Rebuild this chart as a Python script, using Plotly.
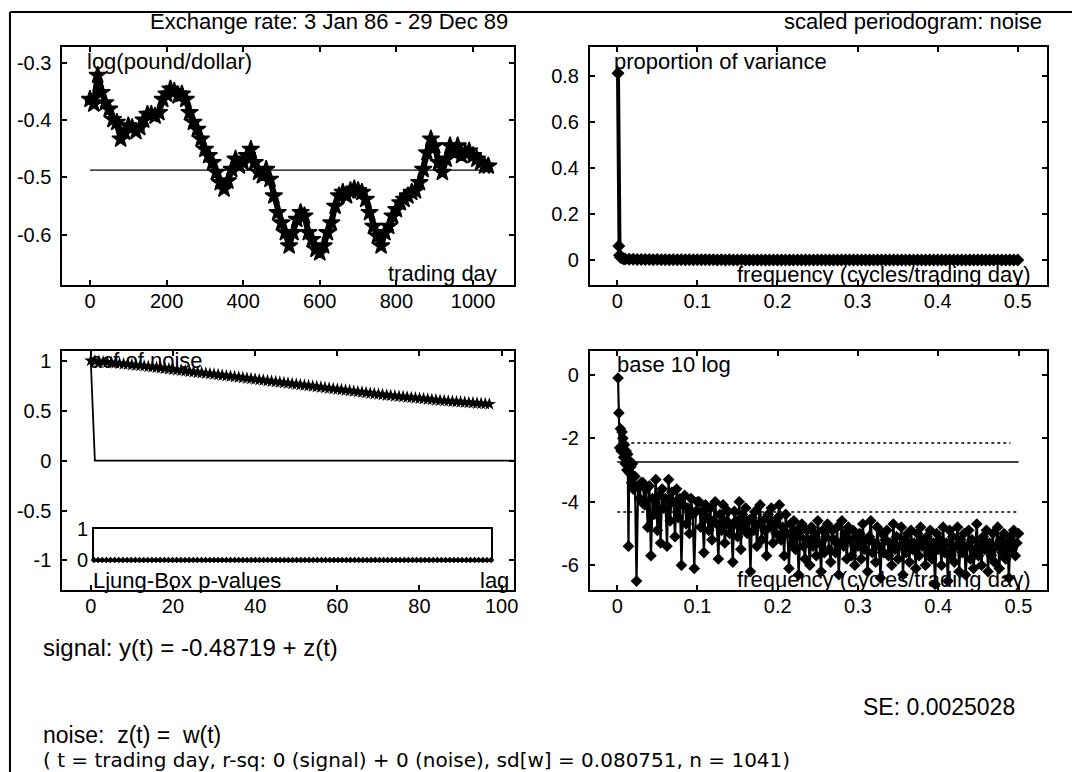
import plotly.graph_objects as go

W = 1077
H_FIG = 790
# measured mapping between page rows and picture rows: picture = 0.9705*page + 11
PIC_SCALE = 0.9705
PIC_OFF = 11.0
FONT = "Liberation Sans"

# ---------------- data ----------------
# top-left: log(pound/dollar), read every 10 trading days
trading_day = list(range(0, 1041, 10))
log_rate = [
    -0.364, -0.372, -0.322, -0.352, -0.370, -0.381, -0.399, -0.404, -0.433, -0.421,
    -0.410, -0.413, -0.420, -0.413, -0.400, -0.390, -0.390, -0.393, -0.387, -0.364,
    -0.355, -0.346, -0.350, -0.358, -0.355, -0.364, -0.387, -0.404, -0.416, -0.433,
    -0.451, -0.462, -0.474, -0.491, -0.509, -0.520, -0.506, -0.486, -0.468, -0.480,
    -0.474, -0.462, -0.451, -0.474, -0.491, -0.497, -0.486, -0.503, -0.532, -0.561,
    -0.579, -0.596, -0.619, -0.596, -0.573, -0.561, -0.567, -0.596, -0.608, -0.625,
    -0.631, -0.619, -0.596, -0.579, -0.550, -0.532, -0.526, -0.532, -0.523, -0.520,
    -0.523, -0.526, -0.538, -0.561, -0.585, -0.602, -0.619, -0.596, -0.585, -0.567,
    -0.556, -0.544, -0.538, -0.532, -0.526, -0.523, -0.509, -0.486, -0.457, -0.433,
    -0.445, -0.474, -0.491, -0.468, -0.445, -0.457, -0.445, -0.462, -0.457, -0.454,
    -0.462, -0.468, -0.474, -0.480, -0.480,
]
mean_days = [0, 1040]
mean_level = [-0.48719, -0.48719]

# top-right: scaled periodogram (proportion of variance)
prop_var_head = [0.81, 0.06, 0.02, 0.012, 0.008, 0.005, 0.004]
freq_tr_head = [0.001, 0.002, 0.003, 0.004, 0.006, 0.008, 0.010]
prop_var_tail = [
    0.003, 0.003, 0.002, 0.002, 0.002, 0.002, 0.001, 0.002, 0.001, 0.001,
    0.001, 0.001, 0.001, 0.001, 0.001, 0.001, 0.001, 0.001, 0.001, 0.001,
    0.001, 0.001, 0.000, 0.001, 0.000, 0.001, 0.000, 0.000, 0.001, 0.000,
    0.000, 0.000, 0.000, 0.000, 0.000, 0.000, 0.000, 0.000, 0.000, 0.000,
    0.000, 0.000, 0.000, 0.000, 0.000, 0.000, 0.000, 0.000, 0.000, 0.000,
    0.000, 0.000, 0.000, 0.000, 0.000, 0.000, 0.000, 0.000, 0.000, 0.000,
    0.000, 0.000, 0.000, 0.000, 0.000, 0.000, 0.000, 0.000, 0.000, 0.000,
    0.000, 0.000, 0.000, 0.000, 0.000, 0.000, 0.000, 0.000, 0.000, 0.000,
    0.000, 0.000, 0.000, 0.000, 0.000, 0.000, 0.000, 0.000, 0.000, 0.000,
    0.000, 0.000, 0.000, 0.000, 0.000, 0.000, 0.000, 0.000,
]
freq_tr = freq_tr_head + [round(0.015 + 0.005 * i, 3) for i in range(len(prop_var_tail))]
prop_var = prop_var_head + prop_var_tail

# bottom-left: acf of noise
acf_lag = list(range(0, 98))
acf_noise = [
    1.000, 0.996, 0.991, 0.987, 0.983, 0.979, 0.975, 0.970, 0.966, 0.962,
    0.957, 0.953, 0.949, 0.944, 0.940, 0.936, 0.931, 0.926, 0.921, 0.916,
    0.911, 0.906, 0.901, 0.896, 0.891, 0.886, 0.881, 0.877, 0.872, 0.867,
    0.862, 0.857, 0.852, 0.847, 0.842, 0.837, 0.832, 0.827, 0.822, 0.817,
    0.812, 0.807, 0.802, 0.797, 0.792, 0.787, 0.782, 0.777, 0.772, 0.767,
    0.762, 0.757, 0.752, 0.747, 0.742, 0.737, 0.732, 0.727, 0.722, 0.717,
    0.712, 0.707, 0.702, 0.697, 0.692, 0.687, 0.682, 0.677, 0.672, 0.667,
    0.662, 0.658, 0.653, 0.649, 0.645, 0.641, 0.637, 0.633, 0.629, 0.625,
    0.621, 0.617, 0.613, 0.609, 0.605, 0.601, 0.597, 0.594, 0.591, 0.588,
    0.585, 0.582, 0.579, 0.576, 0.573, 0.570, 0.567, 0.564,
]
wn_lag = [0, 1, 103]
wn_acf = [1.0, 0.0, 0.0]
lb_lag = list(range(1, 98))
lb_pvalue = [0.0] * 97  # every Ljung-Box p-value reads as 0

# bottom-right: base 10 log of periodogram
freq_br_head = [0.001, 0.002, 0.003, 0.004, 0.005, 0.006, 0.007, 0.008, 0.009, 0.010,
                0.011, 0.012, 0.013, 0.014, 0.015, 0.016, 0.017, 0.018, 0.019, 0.020,
                0.022, 0.024, 0.026, 0.028, 0.030]
log_pgram_head = [
    -0.1, -1.2, -2.3, -1.7, -2.4, -1.8, -2.0, -2.6, -2.2, -2.8,
    -2.4, -3.0, -2.5, -5.4, -2.7, -3.1, -2.9, -3.4, -2.8, -3.6,
    -3.2, -6.5, -3.5, -3.9, -3.4,
]
log_pgram_tail = [
    # 0.032 - 0.100
    -3.4, -4.1, -3.6, -4.8, -3.5, -5.7, -3.9, -4.4, -3.3, -4.9, -3.8, -5.3, -3.6, -4.2, -3.9,
    -5.4, -3.3, -4.6, -3.7, -4.0, -5.1, -3.6, -4.5, -3.9, -6.0, -4.1, -3.8, -4.7, -4.2, -5.0,
    -3.9, -4.4, -6.1, -4.3, -4.0,
    # 0.102 - 0.200
    -4.0, -4.8, -4.3, -5.6, -4.1, -4.5, -4.9, -4.2, -5.2, -4.6, -4.0, -4.7, -5.8, -4.4, -4.9,
    -4.1, -5.3, -4.6, -4.3, -5.0, -4.8, -5.9, -4.3, -4.6, -5.1, -4.0, -5.5, -4.4, -4.8, -4.2,
    -5.0, -4.6, -6.2, -4.5, -4.9, -4.3, -5.4, -4.7, -4.1, -5.2, -4.6, -4.9, -5.7, -4.4, -4.8,
    -4.2, -5.3, -4.7, -5.0, -4.5,
    # 0.202 - 0.300
    -4.1, -5.2, -4.8, -5.7, -4.4, -5.0, -6.1, -4.7, -5.3, -4.6, -5.5, -4.9, -6.3, -5.1, -4.7,
    -5.4, -5.8, -4.9, -5.2, -6.0, -4.8, -5.4, -5.0, -5.7, -4.6, -5.3, -6.2, -4.9, -5.6, -5.1,
    -4.7, -5.5, -5.9, -4.9, -5.2, -5.6, -4.8, -6.3, -5.3, -4.6, -5.4, -5.0, -5.8, -4.8, -5.2,
    -5.7, -4.9, -6.0, -5.1, -5.4,
    # 0.302 - 0.400
    -5.0, -5.8, -4.7, -5.5, -5.2, -6.2, -5.1, -4.6, -5.6, -5.3, -5.9, -4.8, -5.4, -6.4, -5.0,
    -5.6, -5.2, -4.9, -5.7, -5.3, -6.0, -4.7, -5.5, -5.1, -5.8, -5.4, -4.8, -6.3, -5.2, -5.6,
    -5.0, -5.9, -4.9, -5.5, -5.3, -6.1, -5.0, -5.7, -4.8, -5.4, -5.2, -6.0, -5.1, -5.6, -4.9,
    -5.8, -5.3, -6.6, -5.0, -5.5,
    # 0.402 - 0.500
    -5.2, -6.0, -4.8, -5.6, -5.3, -6.5, -4.9, -5.7, -5.1, -5.9, -5.4, -4.8, -6.2, -5.2, -5.6,
    -5.0, -6.3, -5.4, -4.9, -5.8, -5.2, -6.1, -5.5, -4.7, -5.7, -5.3, -6.0, -5.1, -5.5, -4.9,
    -6.2, -5.3, -5.7, -5.0, -5.9, -5.4, -4.8, -6.1, -5.2, -5.6, -5.0, -5.8, -5.3, -6.4, -5.1,
    -5.5, -4.9, -5.7, -5.3, -5.0,
]
freq_br = freq_br_head + [round(0.032 + 0.002 * i, 3) for i in range(len(log_pgram_tail))]
log_pgram = log_pgram_head + log_pgram_tail
ref_solid_x, ref_solid_y = [0.0, 0.5], [-2.75, -2.75]
ref_upper_x, ref_upper_y = [0.01, 0.49], [-2.15, -2.15]
ref_lower_x, ref_lower_y = [0.0, 0.5], [-4.32, -4.32]

# tick labels
tl_x_ticks = [0, 200, 400, 600, 800, 1000]
tl_y_ticks = [-0.3, -0.4, -0.5, -0.6]
tl_y_text = ["-0.3", "-0.4", "-0.5", "-0.6"]
tr_x_ticks = [0, 0.1, 0.2, 0.3, 0.4, 0.5]
tr_x_text = ["0", "0.1", "0.2", "0.3", "0.4", "0.5"]
tr_y_ticks = [0, 0.2, 0.4, 0.6, 0.8]
tr_y_text = ["0", "0.2", "0.4", "0.6", "0.8"]
bl_x_ticks = [0, 20, 40, 60, 80, 100]
bl_y_ticks = [1, 0.5, 0, -0.5, -1]
bl_y_text = ["1", "0.5", "0", "-0.5", "-1"]
br_y_ticks = [0, -2, -4, -6]
br_y_text = ["0", "-2", "-4", "-6"]


# ---------------- figure ----------------
def fx(p):
    return p / W


def fy(p):
    page = (p - PIC_OFF) / PIC_SCALE
    return min(1.0, max(0.0, 1 - page / H_FIG))


K = "black"
fig = go.Figure()

fig.add_trace(go.Scatter(x=trading_day, y=log_rate, mode="lines+markers",
                         line=dict(color=K, width=6),
                         marker=dict(symbol="star", size=13, color=K,
                                     line=dict(color=K, width=1.5)),
                         xaxis="x", yaxis="y"))
fig.add_trace(go.Scatter(x=mean_days, y=mean_level, mode="lines",
                         line=dict(color=K, width=1.2), xaxis="x", yaxis="y"))

fig.add_trace(go.Scatter(x=freq_tr, y=prop_var, mode="lines+markers",
                         line=dict(color=K, width=4),
                         marker=dict(symbol="diamond", size=10, color=K),
                         xaxis="x2", yaxis="y2"))

fig.add_trace(go.Scatter(x=acf_lag, y=acf_noise, mode="lines+markers",
                         line=dict(color=K, width=3),
                         marker=dict(symbol="star", size=10, color=K),
                         xaxis="x3", yaxis="y3"))
fig.add_trace(go.Scatter(x=wn_lag, y=wn_acf, mode="lines",
                         line=dict(color=K, width=1.8), xaxis="x3", yaxis="y3"))
fig.add_trace(go.Scatter(x=lb_lag, y=lb_pvalue, mode="lines+markers",
                         line=dict(color=K, width=2),
                         marker=dict(symbol="diamond", size=5, color=K),
                         xaxis="x5", yaxis="y5", cliponaxis=False))

fig.add_trace(go.Scatter(x=freq_br, y=log_pgram, mode="lines+markers",
                         line=dict(color=K, width=2.2),
                         marker=dict(symbol="diamond", size=9, color=K),
                         xaxis="x4", yaxis="y4"))
fig.add_trace(go.Scatter(x=ref_solid_x, y=ref_solid_y, mode="lines",
                         line=dict(color=K, width=1.5), xaxis="x4", yaxis="y4"))
fig.add_trace(go.Scatter(x=ref_upper_x, y=ref_upper_y, mode="lines",
                         line=dict(color=K, width=1.5, dash="dot"), xaxis="x4", yaxis="y4"))
fig.add_trace(go.Scatter(x=ref_lower_x, y=ref_lower_y, mode="lines",
                         line=dict(color=K, width=1.5, dash="dot"), xaxis="x4", yaxis="y4"))

tickfont = dict(family=FONT, size=20, color=K)
common = dict(showline=True, linecolor=K, linewidth=2, mirror="ticks", ticks="inside",
              ticklen=5, tickwidth=1.5, tickcolor=K, showgrid=False, zeroline=False,
              tickfont=tickfont, fixedrange=True)
xcommon = dict(common, ticklabelstandoff=-3)
ycommon = dict(common, ticklabelstandoff=5)

left_dom = [fx(62.7), fx(516)]
right_dom = [fx(592.7), fx(1051.5)]
top_dom = [fy(285), fy(47)]
bot_dom = [fy(589), fy(350)]

fig.update_layout(
    width=W, height=H_FIG, margin=dict(l=0, r=0, t=0, b=0),
    paper_bgcolor="white", plot_bgcolor="white", showlegend=False,
    font=dict(family=FONT, color=K),
    xaxis=dict(domain=left_dom, anchor="y", range=[-72, 1106],
               tickvals=tl_x_ticks, **xcommon),
    yaxis=dict(domain=top_dom, anchor="x", range=[-0.688, -0.273],
               tickvals=tl_y_ticks, ticktext=tl_y_text, **ycommon),
    xaxis2=dict(domain=right_dom, anchor="y2", range=[-0.034, 0.536],
                tickvals=tr_x_ticks, ticktext=tr_x_text, **xcommon),
    yaxis2=dict(domain=top_dom, anchor="x2", range=[-0.111, 0.924],
                tickvals=tr_y_ticks, ticktext=tr_y_text, **ycommon),
    xaxis3=dict(domain=left_dom, anchor="y3", range=[-6.9, 102.9],
                tickvals=bl_x_ticks, **xcommon),
    yaxis3=dict(domain=bot_dom, anchor="x3", range=[-1.295, 1.10],
                tickvals=bl_y_ticks, ticktext=bl_y_text, **ycommon),
    xaxis4=dict(domain=right_dom, anchor="y4", range=[-0.034, 0.535],
                tickvals=tr_x_ticks, ticktext=tr_x_text, **xcommon),
    yaxis4=dict(domain=bot_dom, anchor="x4", range=[-6.78, 0.764],
                tickvals=br_y_ticks, ticktext=br_y_text, **ycommon),
    xaxis5=dict(domain=[fx(94.4), fx(493.4)], anchor="y5", range=[1, 97],
                showline=True, linecolor=K, linewidth=1.8, mirror=True,
                showticklabels=False, ticks="", showgrid=False, zeroline=False,
                fixedrange=True),
    yaxis5=dict(domain=[fy(559), fy(528)], anchor="x5", range=[0, 1],
                showline=True, linecolor=K, linewidth=1.8, mirror=True,
                tickvals=[0, 1], ticktext=["0", "1"], ticks="", ticklabelstandoff=0,
                tickfont=tickfont, showgrid=False, zeroline=False, fixedrange=True),
)


def label(text, xp, yp, xanchor="left", size=22, yanchor="middle", family=FONT):
    fig.add_annotation(text=text, x=fx(xp), y=fy(yp), xref="paper", yref="paper",
                       xanchor=xanchor, yanchor=yanchor, showarrow=False,
                       borderpad=0,
                       font=dict(family=family, size=size, color=K))


label("Exchange rate: 3 Jan 86 - 29 Dec 89", 331, 21, "center", 22)
label("scaled periodogram: noise", 1048, 21, "right", 22)
label("log(pound/dollar)", 86, 61)
label("trading day", 500, 273, "right")
label("proportion of variance", 616, 61)
label("frequency (cycles/trading day)", 1036, 274, "right")
label("acf of noise", 89, 360)
label("Ljung-Box p-values", 92, 580)
label("lag", 512, 580, "right")
label("base 10 log", 619, 364)
label("frequency (cycles/trading day)", 1036, 579, "right")
label("signal: y(t) = -0.48719 + z(t)", 42, 646, "left", 24)
label("SE: 0.0025028", 1021, 706, "right", 23)
label("noise:  z(t) =  w(t)", 42, 734, "left", 23)
label("( t = trading day, r-sq: 0 (signal) + 0 (noise), sd[w] = 0.080751, n = 1041)",
      42, 759, "left", 20, "middle", "DejaVu Sans")

# outer frame lines (top and left)
fig.add_shape(type="line", xref="paper", yref="paper", x0=fx(10), x1=1,
              y0=1 - 1.0 / H_FIG, y1=1 - 1.0 / H_FIG, line=dict(color=K, width=2))
fig.add_shape(type="line", xref="paper", yref="paper", x0=fx(10), x1=fx(10),
              y0=1 - 1.0 / H_FIG, y1=0, line=dict(color=K, width=2))

fig.write_html("out.html",
               post_script="document.body.style.margin='0px';"
                           "document.documentElement.style.overflow='hidden';")
